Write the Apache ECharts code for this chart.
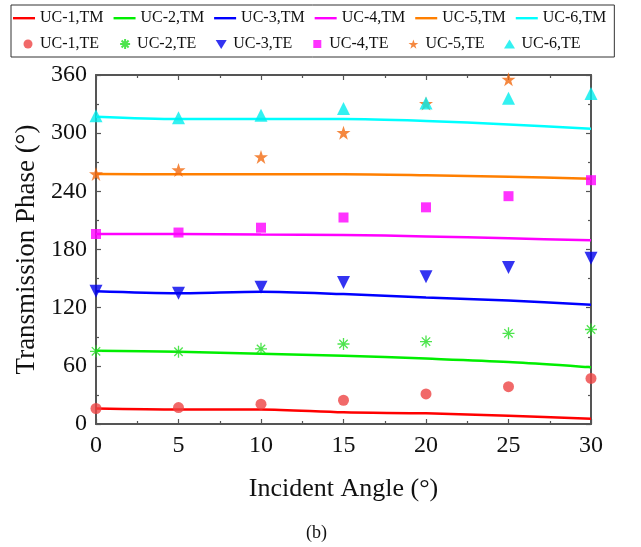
<!DOCTYPE html>
<html>
<head>
<meta charset="utf-8">
<script src="https://cdn.jsdelivr.net/npm/echarts@6/dist/echarts.min.js"></script>
<style>
  html, body { margin: 0; padding: 0; background: #fff; }
  #chart { width: 641px; height: 547px; }
</style>
</head>
<body>
<div id="chart"></div>
<script>
// Incident angles (degrees)
const angles = [0, 5, 10, 15, 20, 25, 30];

// Transmission phase, TM polarisation (solid curves)
const tm1 = [16, 15, 15, 12, 11, 8.5, 5.5];
const tm2 = [75.5, 74.5, 72.5, 70.5, 67.5, 64, 58.5];
const tm3 = [137, 135, 136.5, 134, 130.5, 127.5, 123];
const tm4 = [196, 196, 195.5, 195, 193.5, 191.5, 189.5];
const tm5 = [258, 257.5, 257.5, 257.5, 256.5, 255, 253];
const tm6 = [317, 314.5, 314.5, 314.5, 312.5, 309, 304.5];

// Transmission phase, TE polarisation (markers)
const te1 = [16, 17, 20.5, 24.5, 31, 38.5, 47];
const te2 = [75, 74.5, 77.5, 82.5, 85, 93.5, 97.5];
const te3 = [137, 135, 141, 146, 152, 161.5, 171];
const te4 = [196, 197.5, 202.5, 213, 223.5, 235, 251.5];
const te5 = [258, 262, 275.5, 300.5, 330.5, 355.5, 388];
const te6 = [318, 316, 318.5, 325.5, 331, 336, 341];

const yTicks = [0, 60, 120, 180, 240, 300, 360];
const xTicks = [0, 5, 10, 15, 20, 25, 30];

const FONT = "'Liberation Serif', 'Times New Roman', serif";
const AXIS_COLOR = '#555';

const pairs = (ys) => angles.map((a, i) => [a, ys[i]]);

// Marker shapes
const asterisk = 'path://M5 0 L5 10 M0 5 L10 5 M1.5 1.5 L8.5 8.5 M8.5 1.5 L1.5 8.5';
const star = 'path://M50 0 L61.8 35.1 L98.9 35.1 L68.9 56.7 L80.3 91.9 L50 70.2 L19.7 91.9 L31.1 56.7 L1.1 35.1 L38.2 35.1 Z';

// Legend icons drawn inside a 22x12 box (corner moves keep the box size)
const BOX = 'M0 0 M22 12 ';
const legendIcons = {
  line: 'path://' + BOX + 'M0 5 L22 5 L22 7.4 L0 7.4 Z',
  circle: 'path://' + BOX + 'M10.5 6 A4.5 4.5 0 1 0 19.5 6 A4.5 4.5 0 1 0 10.5 6 Z',
  asterisk: 'path://' + BOX + 'M15 1 L15 11 M10 6 L20 6 M11.5 2.5 L18.5 9.5 M18.5 2.5 L11.5 9.5',
  down: 'path://' + BOX + 'M9.5 2 L20.5 2 L15 11 Z',
  square: 'path://' + BOX + 'M11 2 L19 2 L19 10 L11 10 Z',
  star: 'path://' + BOX + 'M15 1.5 L16.2 5 L19.9 5 L16.9 7.2 L18 10.7 L15 8.5 L12 10.7 L13.1 7.2 L10.1 5 L13.8 5 Z',
  up: 'path://' + BOX + 'M15 1.5 L20.5 10.5 L9.5 10.5 Z'
};

const tmSeries = [
  ['UC-1,TM', tm1, '#ff0000'],
  ['UC-2,TM', tm2, '#00ee00'],
  ['UC-3,TM', tm3, '#0000ff'],
  ['UC-4,TM', tm4, '#ff00ff'],
  ['UC-5,TM', tm5, '#ff7f00'],
  ['UC-6,TM', tm6, '#00ffff']
].map(([name, ys, color]) => ({
  name, type: 'line', data: pairs(ys), symbol: 'none', smooth: 0.3,
  color, lineStyle: { color, width: 2.5 }, z: 2
}));

const teSeries = [
  { name: 'UC-1,TE', data: pairs(te1), symbol: 'circle', symbolSize: 11,
    itemStyle: { color: '#ee4444' } },
  { name: 'UC-2,TE', data: pairs(te2), symbol: asterisk, symbolSize: 12,
    itemStyle: { color: 'rgba(0,0,0,0)', borderColor: '#22dd22', borderWidth: 1.3 } },
  { name: 'UC-3,TE', data: pairs(te3), symbol: 'triangle', symbolSize: 13, symbolRotate: 180,
    itemStyle: { color: '#0000ee' } },
  { name: 'UC-4,TE', data: pairs(te4), symbol: 'rect', symbolSize: 10,
    itemStyle: { color: '#ff00ff' } },
  { name: 'UC-5,TE', data: pairs(te5), symbol: star, symbolSize: 14,
    itemStyle: { color: '#f26a10' } },
  { name: 'UC-6,TE', data: pairs(te6), symbol: 'triangle', symbolSize: 13,
    itemStyle: { color: '#00eeee' } }
].map(s => Object.assign({ type: 'scatter', z: 3 }, s));

const teIcons = ['circle', 'asterisk', 'down', 'square', 'star', 'up'];

const legendData = tmSeries.map(s => ({ name: s.name, icon: legendIcons.line }))
  .concat(teSeries.map((s, i) => ({ name: s.name, icon: legendIcons[teIcons[i]] })));

const chart = echarts.init(document.getElementById('chart'), null, { renderer: 'canvas' });

const axisCommon = {
  axisLine: { show: true, onZero: false, lineStyle: { color: AXIS_COLOR, width: 2 } },
  axisTick: { show: true, inside: true, length: 5, lineStyle: { color: AXIS_COLOR, width: 1.2 } },
  minorTick: { show: true, splitNumber: 2, length: 3, lineStyle: { color: AXIS_COLOR, width: 1.2 } },
  splitLine: { show: false }
};

chart.setOption({
  animation: false,
  textStyle: { fontFamily: FONT },
  title: {
    text: '(b)', left: 301, top: 519,
    textStyle: { fontFamily: FONT, fontSize: 18, fontWeight: 'normal', color: '#111' }
  },
  legend: {
    left: 11, top: 5, width: 630,
    padding: [5, 8, 5, 2],
    borderColor: '#333', borderWidth: 1,
    itemGap: 10, itemWidth: 22, itemHeight: 12,
    textStyle: { fontFamily: FONT, fontSize: 16, color: '#111', width: 69 },
    data: legendData
  },
  grid: { left: 96, right: 50, top: 75, bottom: 123, containLabel: false },
  xAxis: [
    Object.assign({
      type: 'value', min: 0, max: 30, interval: 5, position: 'bottom',
      name: 'Incident Angle (°)', nameLocation: 'middle', nameGap: 52,
      nameTextStyle: { fontFamily: FONT, fontSize: 26, color: '#111' },
      axisLabel: { fontFamily: FONT, fontSize: 24, color: '#111', margin: 10,
        formatter: v => xTicks.includes(v) ? String(v) : '' }
    }, axisCommon),
    Object.assign({
      type: 'value', min: 0, max: 30, interval: 5, position: 'top',
      axisLabel: { show: false }
    }, axisCommon)
  ],
  yAxis: [
    Object.assign({
      type: 'value', min: 0, max: 360, interval: 60, position: 'left',
      name: 'Transmission Phase (°)', nameLocation: 'middle', nameGap: 45,
      nameTextStyle: { fontFamily: FONT, fontSize: 27, color: '#111' },
      axisLabel: { fontFamily: FONT, fontSize: 24, color: '#111', margin: 9,
        formatter: v => yTicks.includes(v) ? String(v) : '' }
    }, axisCommon),
    Object.assign({
      type: 'value', min: 0, max: 360, interval: 60, position: 'right',
      axisLabel: { show: false }
    }, axisCommon)
  ],
  series: tmSeries.concat(teSeries)
});
</script>
</body>
</html>
